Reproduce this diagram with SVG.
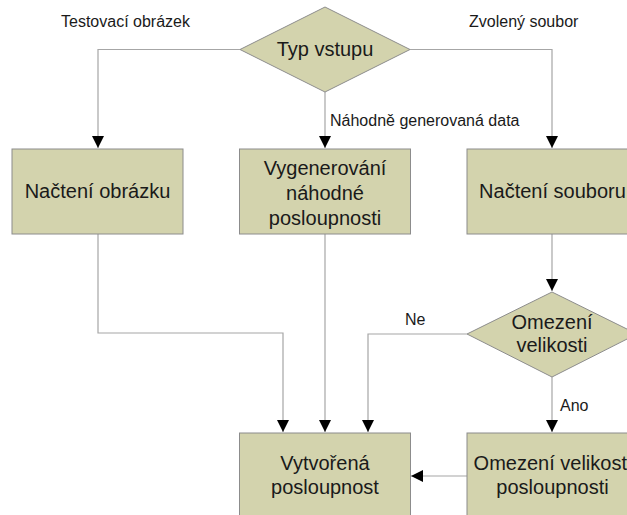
<svg xmlns="http://www.w3.org/2000/svg" width="627" height="515" viewBox="0 0 627 515">
<style>
.n{fill:#D3D3AD;stroke:#8C8C8C;stroke-width:1}
.t{font-family:"Liberation Sans",Arial,sans-serif;font-size:20px;fill:#1a1a1a;text-anchor:middle}
.l{font-family:"Liberation Sans",Arial,sans-serif;font-size:16px;fill:#1a1a1a}
.c{fill:none;stroke:#A6A6A6;stroke-width:1.2}
</style>
<defs>
<marker id="a" markerUnits="userSpaceOnUse" markerWidth="12" markerHeight="16" viewBox="0 0 12 16" refX="12" refY="6" orient="auto">
<path d="M0,0 L12,6 L0,12 Z" fill="#000"/>
</marker>
</defs>
<rect width="627" height="515" fill="#fff"/>
<g id="connectors">
<path class="c" d="M240,49.5 H98 V148" marker-end="url(#a)"/>
<path class="c" d="M410,49.5 H552 V148" marker-end="url(#a)"/>
<path class="c" d="M325,92 V148" marker-end="url(#a)"/>
<path class="c" d="M98,234 V333 H283 V432" marker-end="url(#a)"/>
<path class="c" d="M325,234 V432" marker-end="url(#a)"/>
<path class="c" d="M552,234 V291" marker-end="url(#a)"/>
<path class="c" d="M467,334 H368 V432" marker-end="url(#a)"/>
<path class="c" d="M552,377 V432" marker-end="url(#a)"/>
<path class="c" d="M467,476 H411" marker-end="url(#a)"/>
<text class="l" x="61" y="27">Testovací obrázek</text>
<text class="l" x="469" y="27">Zvolený soubor</text>
<text class="l" x="330" y="126">Náhodně generovaná data</text>
<text class="l" x="405" y="325">Ne</text>
<text class="l" x="560" y="411">Ano</text>
</g>
<g id="typ">
<polygon class="n" points="325,7 410,49.5 325,92 240,49.5"/>
<text class="t" x="325" y="56">Typ vstupu</text>
</g>
<g id="obrazek">
<rect class="n" x="12" y="149" width="171" height="85"/>
<text class="t" x="97.5" y="198">Načtení obrázku</text>
</g>
<g id="vygenerovani">
<rect class="n" x="239.5" y="149" width="171" height="85"/>
<text class="t" x="325" y="175">Vygenerování</text>
<text class="t" x="325" y="200">náhodné</text>
<text class="t" x="325" y="225">posloupnosti</text>
</g>
<g id="soubor">
<rect class="n" x="467" y="149" width="171" height="85"/>
<text class="t" x="552.5" y="198">Načtení souboru</text>
</g>
<g id="omezeni">
<polygon class="n" points="552,292 637,334 552,377 467,334"/>
<text class="t" x="552" y="329">Omezení</text>
<text class="t" x="552" y="352">velikosti</text>
</g>
<g id="vytvorena">
<rect class="n" x="239.5" y="433" width="171" height="90"/>
<text class="t" x="325" y="470">Vytvořená</text>
<text class="t" x="325" y="494">posloupnost</text>
</g>
<g id="omezeniVel">
<rect class="n" x="467" y="433" width="171" height="90"/>
<text class="t" x="552.5" y="470">Omezení velikosti</text>
<text class="t" x="552.5" y="494">posloupnosti</text>
</g>
</svg>
